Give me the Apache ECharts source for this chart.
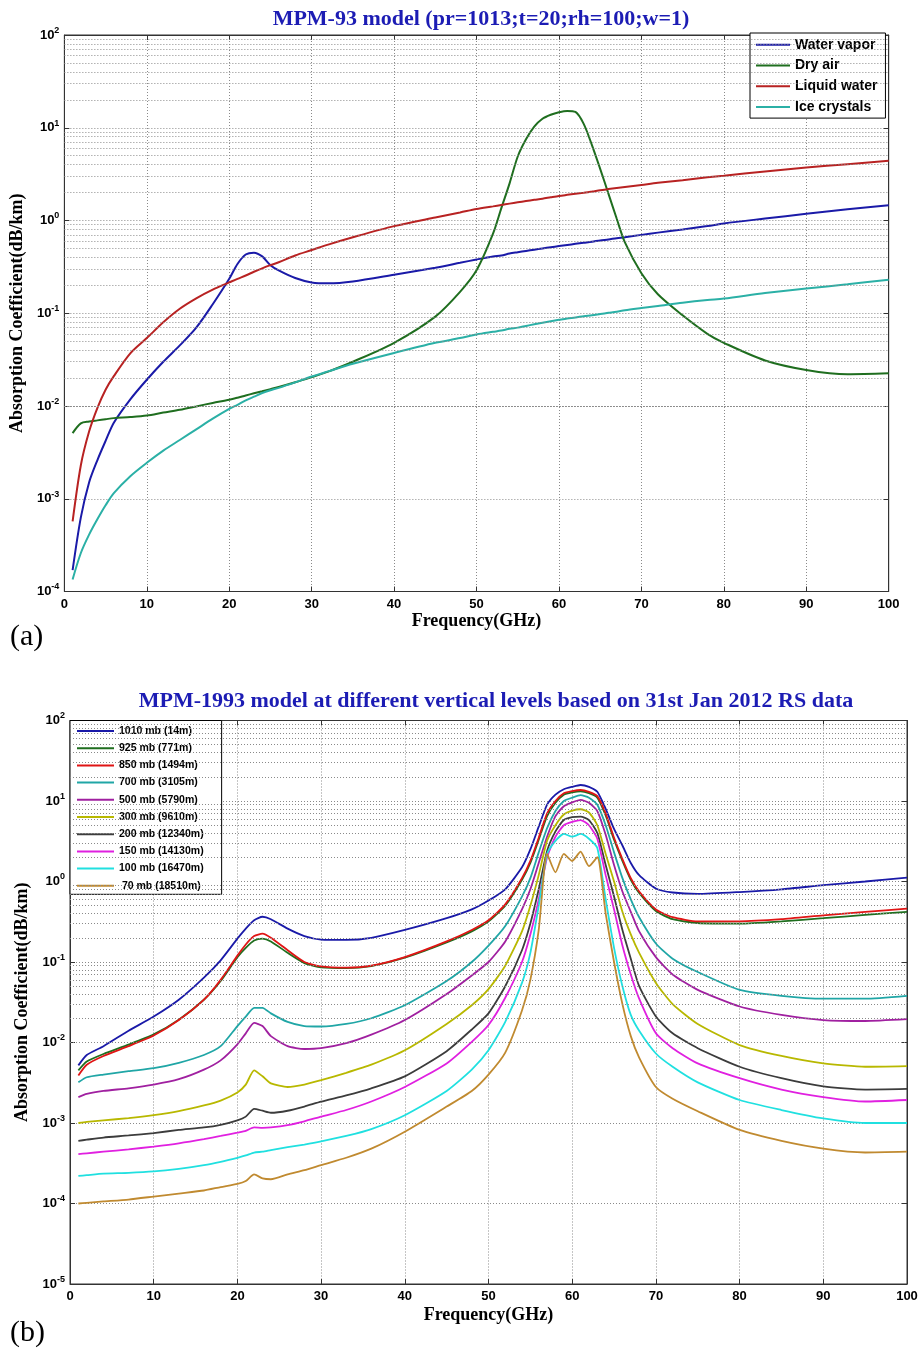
<!DOCTYPE html>
<html><head><meta charset="utf-8">
<script src="https://cdn.jsdelivr.net/npm/echarts@6/dist/echarts.min.js"></script>
<style>html,body{margin:0;padding:0;background:#fff}#c{width:922px;height:1354px}</style>
</head><body><div id="c"></div>
<script>
// ---------- Chart (a) data ----------
const freqA = [1,2,3,4,5,6,8,10,12,14,16,18,20,21,22,23,24,25,26,28,30,32,35,40,45,48,50,52,53,54,55,56,57,58,59,60,61,62,63,64,65,66,67,68,70,72,75,78,80,85,90,95,100];
const waterVapor = [1.7e-4,6.3e-4,1.5e-3,2.6e-3,4.2e-3,6.6e-3,0.0118,0.0192,0.030,0.045,0.07,0.125,0.235,0.34,0.43,0.45,0.41,0.33,0.29,0.24,0.215,0.21,0.22,0.26,0.31,0.35,0.38,0.41,0.42,0.44,0.455,0.47,0.485,0.50,0.515,0.53,0.545,0.56,0.575,0.59,0.61,0.625,0.645,0.66,0.70,0.74,0.80,0.87,0.93,1.05,1.18,1.32,1.46];
const dryAir = [5.1e-3,6.5e-3,6.8e-3,7.0e-3,7.2e-3,7.4e-3,7.6e-3,7.9e-3,8.5e-3,9.1e-3,9.9e-3,0.0108,0.0117,0.0123,0.013,0.0137,0.0144,0.0152,0.016,0.018,0.0205,0.0235,0.030,0.048,0.092,0.17,0.29,0.72,1.35,2.5,4.9,7.5,10.3,12.5,13.8,14.7,15.2,14.8,11.0,6.5,3.6,1.95,1.05,0.58,0.27,0.16,0.095,0.06,0.048,0.031,0.0245,0.022,0.0225];
const liquidWater = [5.7e-4,2.3e-3,5.3e-3,9.5e-3,0.015,0.021,0.037,0.054,0.08,0.112,0.145,0.18,0.215,0.235,0.255,0.28,0.305,0.33,0.355,0.42,0.48,0.55,0.66,0.87,1.08,1.22,1.33,1.42,1.47,1.52,1.57,1.62,1.67,1.72,1.78,1.84,1.89,1.94,1.99,2.05,2.12,2.18,2.24,2.30,2.42,2.55,2.72,2.92,3.04,3.38,3.72,4.05,4.4];
const iceCrystals = [1.35e-4,2.6e-4,4.1e-4,6.0e-4,8.5e-4,1.15e-3,1.75e-3,2.44e-3,3.3e-3,4.3e-3,5.6e-3,7.3e-3,9.3e-3,0.0103,0.0115,0.0126,0.0138,0.0148,0.0157,0.018,0.0208,0.0236,0.0285,0.0373,0.048,0.054,0.059,0.063,0.065,0.068,0.070,0.073,0.076,0.079,0.082,0.085,0.088,0.090,0.093,0.095,0.098,0.101,0.104,0.108,0.114,0.12,0.13,0.139,0.144,0.165,0.185,0.205,0.23];
const namesA = ['Water vapor','Dry air','Liquid water','Ice crystals'];

// ---------- Chart (b) data ----------
const freqB = [1,2,4,7,10,13,16,18,20,21,22,23,24,26,28,30,33,36,40,45,48,50,52,54,55,56,57,58,59,60,61,62,63,64,65,66,67,68,70,72,75,80,85,90,95,100];
const mb1010 = [5.2e-3,7.0e-3,9.0e-3,0.014,0.021,0.034,0.064,0.105,0.195,0.26,0.33,0.365,0.34,0.26,0.21,0.19,0.188,0.20,0.25,0.35,0.45,0.58,0.80,1.5,2.5,4.8,9.0,12.0,14.0,15.0,15.8,15.0,13.0,8.0,4.5,2.8,1.7,1.2,0.82,0.73,0.70,0.74,0.80,0.90,1.0,1.12];
const mb925 = [4.5e-3,5.8e-3,7.2e-3,9.4e-3,0.0126,0.0192,0.034,0.058,0.115,0.15,0.185,0.195,0.18,0.13,0.097,0.086,0.084,0.089,0.113,0.175,0.24,0.32,0.50,1.05,1.7,3.3,6.5,9.5,12.0,12.8,13.2,12.5,11.0,6.6,3.3,1.8,1.05,0.72,0.43,0.34,0.305,0.30,0.32,0.35,0.385,0.42];
const mb850 = [3.9e-3,5.3e-3,6.8e-3,9.0e-3,0.0122,0.019,0.034,0.060,0.12,0.165,0.21,0.225,0.20,0.14,0.10,0.088,0.085,0.09,0.115,0.18,0.25,0.33,0.52,1.1,1.8,3.5,7.0,10.0,12.5,13.3,13.7,13.0,11.5,7.0,3.5,1.9,1.1,0.75,0.45,0.36,0.32,0.32,0.34,0.38,0.42,0.46];
const mb700 = [3.2e-3,3.7e-3,4.0e-3,4.4e-3,4.8e-3,5.6e-3,7.0e-3,9.0e-3,0.016,0.021,0.027,0.027,0.023,0.018,0.016,0.0158,0.017,0.020,0.029,0.058,0.10,0.16,0.28,0.65,1.1,2.3,4.6,7.5,10.0,11.0,11.8,11.0,9.0,5.0,2.3,1.1,0.6,0.36,0.17,0.11,0.075,0.045,0.038,0.035,0.035,0.038];
const mb500 = [2.1e-3,2.3e-3,2.5e-3,2.7e-3,3.0e-3,3.5e-3,4.6e-3,6.0e-3,9.5e-3,0.013,0.0175,0.016,0.012,9.0e-3,8.3e-3,8.5e-3,9.8e-3,0.0125,0.019,0.040,0.068,0.10,0.18,0.45,0.8,1.7,3.6,6.5,8.6,9.6,10.3,9.5,7.5,3.8,1.6,0.75,0.42,0.24,0.115,0.07,0.045,0.028,0.022,0.019,0.0185,0.0195];
const mb300 = [1.0e-3,1.03e-3,1.08e-3,1.15e-3,1.25e-3,1.4e-3,1.65e-3,1.9e-3,2.4e-3,3.0e-3,4.5e-3,3.8e-3,3.1e-3,2.8e-3,3.0e-3,3.4e-3,4.2e-3,5.3e-3,8.0e-3,0.017,0.029,0.046,0.09,0.24,0.5,1.2,3.2,5.0,6.8,7.6,7.9,7.2,5.0,2.2,1.0,0.42,0.22,0.13,0.055,0.03,0.017,9.3e-3,6.8e-3,5.5e-3,5.0e-3,5.1e-3];
const mb200 = [6.0e-4,6.2e-4,6.6e-4,7.0e-4,7.5e-4,8.2e-4,8.8e-4,9.5e-4,1.08e-3,1.2e-3,1.5e-3,1.42e-3,1.34e-3,1.42e-3,1.6e-3,1.84e-3,2.2e-3,2.7e-3,3.8e-3,7.8e-3,0.0145,0.023,0.05,0.14,0.3,0.8,2.4,4.2,5.8,6.3,6.4,5.8,4.0,1.6,0.65,0.25,0.11,0.05,0.021,0.013,8.5e-3,5.0e-3,3.6e-3,2.85e-3,2.6e-3,2.65e-3];
const mb150 = [4.1e-4,4.2e-4,4.4e-4,4.7e-4,5.1e-4,5.6e-4,6.3e-4,6.9e-4,7.6e-4,8.0e-4,8.8e-4,8.7e-4,8.8e-4,9.4e-4,1.05e-3,1.2e-3,1.45e-3,1.85e-3,2.8e-3,5.5e-3,0.0102,0.0165,0.036,0.10,0.22,0.6,2.0,3.6,5.0,5.5,5.8,5.0,3.4,1.2,0.45,0.16,0.07,0.035,0.013,8.5e-3,5.5e-3,3.6e-3,2.6e-3,2.1e-3,1.85e-3,1.93e-3];
const mb100 = [2.2e-4,2.25e-4,2.35e-4,2.4e-4,2.5e-4,2.7e-4,3.0e-4,3.3e-4,3.7e-4,3.95e-4,4.3e-4,4.4e-4,4.6e-4,5.0e-4,5.4e-4,5.9e-4,6.9e-4,8.4e-4,1.25e-3,2.5e-3,4.6e-3,8.0e-3,0.018,0.055,0.13,0.5,2.2,3.2,3.9,3.6,3.9,3.4,2.6,0.6,0.15,0.05,0.022,0.014,7.3e-3,5.0e-3,3.2e-3,1.93e-3,1.45e-3,1.14e-3,1.0e-3,1.0e-3];
const mb70 = [1.0e-4,1.02e-4,1.06e-4,1.12e-4,1.22e-4,1.33e-4,1.45e-4,1.6e-4,1.75e-4,1.9e-4,2.3e-4,2.05e-4,2.0e-4,2.3e-4,2.6e-4,3.0e-4,3.7e-4,4.8e-4,7.8e-4,1.6e-3,2.5e-3,4.0e-3,7.5e-3,0.025,0.06,0.25,2.2,1.3,2.2,1.8,2.35,1.55,2.0,0.4,0.1,0.03,0.012,6.5e-3,2.8e-3,2.0e-3,1.4e-3,8.2e-4,6.0e-4,4.8e-4,4.3e-4,4.4e-4];
const namesB = ['1010 mb (14m)','925 mb (771m)','850 mb (1494m)','700 mb (3105m)','500 mb (5790m)','300 mb (9610m)','200 mb (12340m)','150 mb (14130m)','100 mb (16470m)',' 70 mb (18510m)'];

// ---------- ticks ----------
const xTicks = [0,10,20,30,40,50,60,70,80,90,100];
const yExpA = [-4,-3,-2,-1,0,1,2];
const yExpB = [-5,-4,-3,-2,-1,0,1,2];

const colorsA = ['#1a1aa8','#1f6e1f','#b82222','#2bb0a6'];
const colorsB = ['#1a1aa8','#1f6e1f','#e01515','#20a6a6','#a020a0','#b8b800','#3c3c3c','#e020e0','#20e0e0','#c08a30'];

const SANS = '"Liberation Sans", Arial, sans-serif';
const SERIF = '"Liberation Serif", "Times New Roman", serif';

function pairs(f, v){ return f.map((x,i)=>[x, v[i]]); }
function minorLines(exps){
  const out=[];
  for (let k=0;k<exps.length-1;k++) for (let m=2;m<=9;m++) out.push({yAxis: m*Math.pow(10, exps[k])});
  return out;
}
const dotted = {color:'#8a8a8a', type:[1,2], width:1};

function xAx(gi, pos, show){
  return {type:'value', gridIndex:gi, position:pos, min:xTicks[0], max:xTicks[xTicks.length-1], interval:10,
    axisLine:{show:true, onZero:false, lineStyle:{color:'#333', width:1}},
    axisTick:{show:true, inside:true, length:5, lineStyle:{color:'#333'}},
    axisLabel:{show:show, margin:6, color:'#000', fontFamily:SANS, fontWeight:'bold', fontSize:13},
    splitLine:{show:show, lineStyle:dotted},
    name: show ? 'Frequency(GHz)' : '', nameLocation:'middle', nameGap: gi===0 ? 21 : 22,
    nameTextStyle:{fontFamily:SERIF, fontWeight:'bold', fontSize:18, color:'#000', verticalAlign:'top'}};
}
function yAx(gi, pos, exps, show){
  return {type:'log', logBase:10, gridIndex:gi, position:pos, min:Math.pow(10,exps[0]), max:Math.pow(10,exps[exps.length-1]),
    axisLine:{show:true, onZero:false, lineStyle:{color:'#333', width:1}},
    axisTick:{show:true, inside:true, length:5, lineStyle:{color:'#333'}},
    axisLabel:{show:show, margin:5, color:'#000', fontFamily:SANS, fontWeight:'bold', fontSize:13,
      formatter: v => '10{s|' + Math.round(Math.log10(v)) + '}',
      rich:{s:{fontFamily:SANS, fontWeight:'bold', fontSize:9, verticalAlign:'bottom', padding:[0,0,9,0], color:'#000'}}},
    splitLine:{show:show, lineStyle:dotted},
    name: show ? 'Absorption Coefficient(dB/km)' : '', nameLocation:'middle', nameGap: gi===0 ? 36 : 37,
    nameTextStyle:{fontFamily:SERIF, fontWeight:'bold', fontSize:18, color:'#000'}};
}

const series = [];
series.push({name:'_gridA', type:'line', xAxisIndex:0, yAxisIndex:0, data:[], z:1, silent:true,
  markLine:{silent:true, symbol:['none','none'], label:{show:false}, lineStyle:dotted, data:minorLines(yExpA), animation:false}});
[waterVapor, dryAir, liquidWater, iceCrystals].forEach((v,i)=>{
  series.push({name:namesA[i], type:'line', xAxisIndex:0, yAxisIndex:0, data:pairs(freqA, v), showSymbol:false, symbol:'none',
    smooth:0.3, lineStyle:{color:colorsA[i], width:2}, itemStyle:{color:colorsA[i]}, z:3});
});
series.push({name:'_gridB', type:'line', xAxisIndex:2, yAxisIndex:2, data:[], z:1, silent:true,
  markLine:{silent:true, symbol:['none','none'], label:{show:false}, lineStyle:dotted, data:minorLines(yExpB), animation:false}});
[mb1010, mb925, mb850, mb700, mb500, mb300, mb200, mb150, mb100, mb70].forEach((v,i)=>{
  series.push({name:namesB[i], type:'line', xAxisIndex:2, yAxisIndex:2, data:pairs(freqB, v), showSymbol:false, symbol:'none',
    smooth:0.2, lineStyle:{color:colorsB[i], width:1.8}, itemStyle:{color:colorsB[i]}, z:3});
});

const chart = echarts.init(document.getElementById('c'), null, {renderer:'canvas'});
chart.setOption({
  animation:false,
  backgroundColor:'#fff',
  title:[
    {text:'MPM-93 model (pr=1013;t=20;rh=100;w=1)', left:476, top:3, textAlign:'center',
      textStyle:{fontFamily:SERIF, fontWeight:'bold', fontSize:22, color:'#1c1cb4'}},
    {text:'MPM-1993 model at different vertical levels based on 31st Jan 2012 RS data', left:491, top:685, textAlign:'center',
      textStyle:{fontFamily:SERIF, fontWeight:'bold', fontSize:22, color:'#1c1cb4'}}
  ],
  grid:[
    {left:62.7, top:35, width:826, height:556.5, show:true, borderColor:'#333', borderWidth:1, backgroundColor:'#fff'},
    {left:70, top:720.5, width:837, height:563.5, show:true, borderColor:'#333', borderWidth:1, backgroundColor:'#fff'}
  ],
  xAxis:[xAx(0,'bottom',true), xAx(0,'top',false), xAx(1,'bottom',true), xAx(1,'top',false)],
  yAxis:[yAx(0,'left',yExpA,true), yAx(0,'right',yExpA,false), yAx(1,'left',yExpB,true), yAx(1,'right',yExpB,false)],
  legend:[
    {data:namesA, orient:'vertical', left:750, top:33, icon:'rect', itemWidth:34, itemHeight:2, itemGap:6.8,
      padding:[4.7,8,4,6], backgroundColor:'#fff', borderColor:'#000', borderWidth:1,
      textStyle:{fontFamily:SANS, fontWeight:'bold', fontSize:14, color:'#000', lineHeight:14}},
    {data:namesB, orient:'vertical', left:70, top:720.5, icon:'rect', itemWidth:37, itemHeight:2, itemGap:6.2,
      padding:[5,18,3,7], backgroundColor:'#fff', borderColor:'#000', borderWidth:1,
      textStyle:{fontFamily:SANS, fontWeight:'bold', fontSize:10.5, color:'#000', lineHeight:10}}
  ],
  graphic:[
    {type:'text', left:10, top:622, style:{text:'(a)', font:'30px "Liberation Serif", serif', fill:'#000'}},
    {type:'text', left:10, top:1318, style:{text:'(b)', font:'30px "Liberation Serif", serif', fill:'#000'}}
  ],
  series:series
});
</script></body></html>
